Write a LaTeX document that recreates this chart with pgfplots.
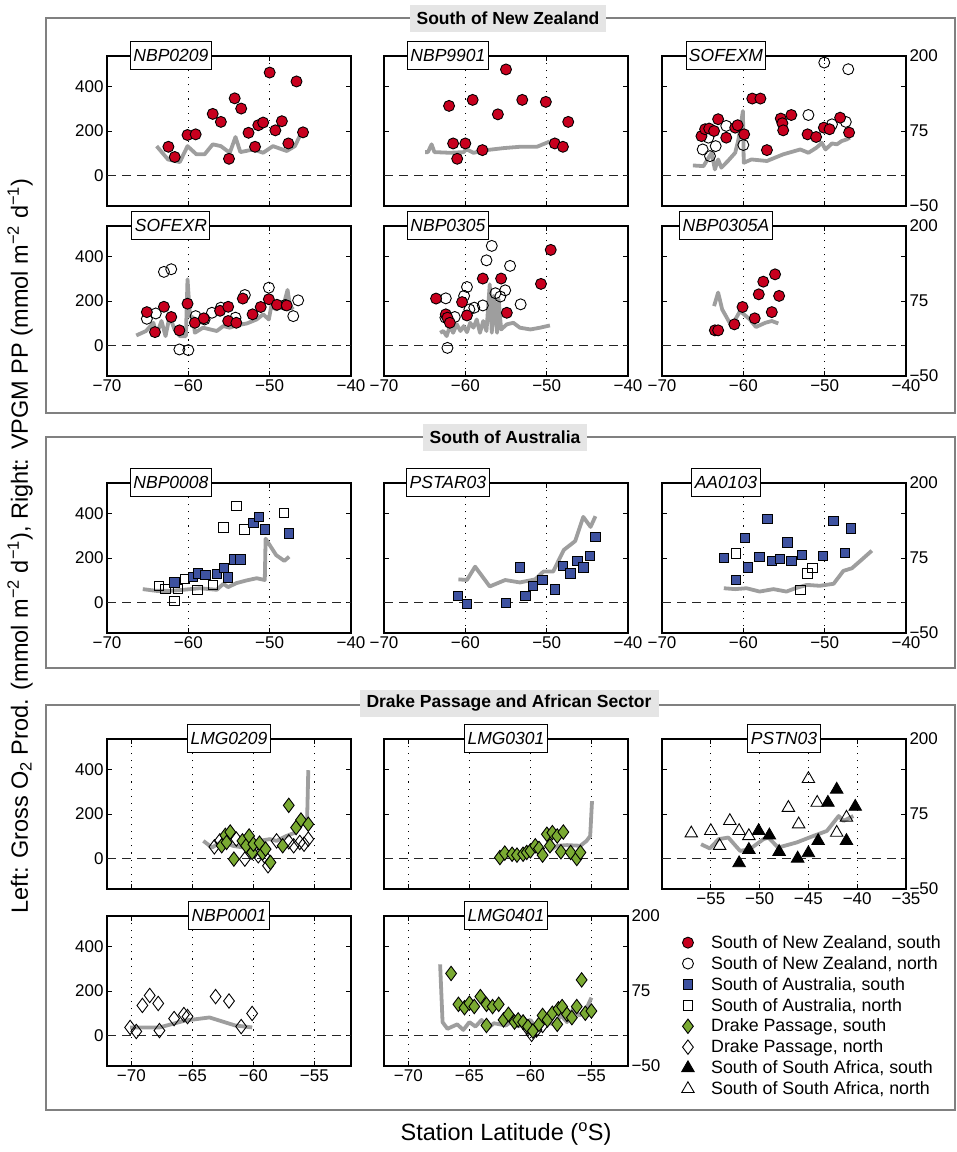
\documentclass[border=0pt]{standalone}
\usepackage{pgfplots}
\pgfplotsset{compat=1.18}
\usepackage{fontspec}
\setmainfont{Liberation Sans}

\definecolor{nzred}{RGB}{200,0,30}
\definecolor{aublue}{RGB}{62,82,160}
\definecolor{dpgreen}{RGB}{122,170,50}
\definecolor{ppgray}{RGB}{158,158,158}
\definecolor{framegray}{RGB}{128,128,128}
\definecolor{titlebg}{RGB}{229,229,229}

\newcommand\tickfont{\fontsize{17}{18}\selectfont}
\newcommand\labfont{\fontsize{17.5}{18}\selectfont\itshape}
\newcommand\titfont{\fontsize{17.5}{18}\selectfont\bfseries}
\newcommand\legfont{\fontsize{17.8}{19}\selectfont}

\pgfplotsset{
  panel/.style={scale only axis, width=244pt, height=150pt, anchor=south west,
    xmin=-70, xmax=-40, ymin=-137.5, ymax=537.5,
    xtick={-70,-60,-50,-40}, xticklabels={},
    ytick={0,200,400}, yticklabels={},
    xmajorgrids, major grid style={black, line width=0.9pt, dash pattern=on 1.1pt off 6pt},
    axis line style={line width=1.3pt}, tick style={black, line width=1pt},
    major tick length=5pt, clip=false,
    tick label style={font=\tickfont}, /pgf/number format/assume math mode=true},
  lefty/.style={yticklabels={0,200,400}},
  botx/.style={xticklabels={−70,−60,−50,−40}},
  gthree/.style={xmin=-72, xmax=-52, xtick={-70,-65,-60,-55}},
  gthreex/.style={xticklabels={−70,−65,−60,−55}},
  rightax/.style={scale only axis, width=244pt, height=150pt, anchor=south west,
    xmin=0, xmax=1, ymin=-50, ymax=200, axis y line*=right, axis x line=none,
    ytick={-50,75,200}, yticklabels={−50,75,200}, ytick style={draw=none},
    y axis line style={line width=1.3pt},
    tick label style={font=\tickfont}},
  nzS/.style={only marks, mark=*, mark size=5.5pt, black, mark options={fill=nzred, line width=0.9pt}},
  nzN/.style={only marks, mark=o, mark size=5.5pt, black, mark options={line width=0.9pt}},
  auS/.style={only marks, mark=square*, mark size=4.7pt, black, mark options={fill=aublue, line width=0.9pt}},
  auN/.style={only marks, mark=square, mark size=4.7pt, black, mark options={line width=0.9pt}},
  dpS/.style={only marks, mark=diamond*, mark size=7.2pt, black, mark options={fill=dpgreen, line width=0.9pt}},
  dpN/.style={only marks, mark=diamond, mark size=7.2pt, black, mark options={line width=0.9pt}},
  saS/.style={only marks, mark=triangle*, mark size=7.2pt, black, mark options={fill=black, line width=0.9pt}},
  saN/.style={only marks, mark=triangle, mark size=7.2pt, black, mark options={line width=0.9pt}},
  pp/.style={no marks, ppgray, line width=3.8pt, line join=round},
}

\newcommand\zeroline{\draw[black!85, line width=1pt, dash pattern=on 9pt off 6pt]
  ({rel axis cs:0,0}|-{axis cs:0,0}) -- ({rel axis cs:1,0}|-{axis cs:0,0});}
\newcommand\plab[2]{\node[draw=black, line width=0.9pt, fill=white, font=\labfont,
  inner xsep=3pt, minimum height=28pt, yshift=1pt] at (rel axis cs:#1,1) {#2};}
\newcommand\rightaxis[1]{\begin{axis}[rightax, at={#1}]
  \addplot[draw=none] coordinates {(0.5,0)};\end{axis}}

\begin{document}
\begin{tikzpicture}
\path[use as bounding box] (0pt,0pt) rectangle (957pt,-1152pt);

% group frames and titles
\draw[framegray, line width=1.5pt] (46pt,-18pt) rectangle (955pt,-413pt);
\draw[framegray, line width=1.5pt] (46pt,-437pt) rectangle (955pt,-668pt);
\draw[framegray, line width=1.5pt] (46pt,-705pt) rectangle (955pt,-1110pt);
\node[fill=titlebg, font=\titfont, minimum height=27pt, inner xsep=7pt] at (508pt,-18pt) {South of New Zealand};
\node[fill=titlebg, font=\titfont, minimum height=27pt, inner xsep=7pt] at (505pt,-437pt) {South of Australia};
\node[fill=titlebg, font=\titfont, minimum height=27pt, inner xsep=7pt] at (509pt,-703pt) {Drake Passage and African Sector};

\node[rotate=90, font=\fontsize{23.5}{25}\selectfont] at (20pt,-546pt)
  {Left: Gross O\textsubscript{2} Prod. (mmol m\textsuperscript{−2} d\textsuperscript{−1}), Right: VPGM PP (mmol m\textsuperscript{−2} d\textsuperscript{−1})};
\node[font=\fontsize{23.5}{25}\selectfont] at (506pt,-1134pt) {Station Latitude (\textsuperscript{o}S)};

%% ---------------- South of New Zealand, row 1
\begin{axis}[panel, lefty, at={(107pt,-206pt)}]
\zeroline
\addplot[pp] coordinates {(-63.9,132) (-62.5,72) (-61.05,60) (-60.1,132) (-59.0,95) (-58.0,95) (-57.0,140) (-56.0,132) (-54.9,102) (-54.2,173) (-53.6,105) (-52.0,117) (-50.8,102) (-49.6,132) (-47.9,110) (-46.9,132) (-46.3,177)};
\addplot[nzS] coordinates {(-62.45,129) (-61.67,83) (-60.1,182) (-59.1,185) (-57.0,277) (-56.0,241) (-55.0,75) (-54.3,347) (-53.5,301) (-52.6,192) (-51.8,129) (-51.4,226) (-50.8,238) (-50.0,463) (-49.3,203) (-48.5,244) (-47.7,144) (-46.7,423) (-45.9,194)};
\plab{0.262}{NBP0209}
\end{axis}

\begin{axis}[panel, at={(384pt,-206pt)}]
\zeroline
\addplot[pp] coordinates {(-64.95,105) (-64.6,105) (-64.15,140) (-63.8,105) (-61.9,102) (-60.2,105) (-59.9,118) (-59.0,102) (-57.4,114) (-55.3,123) (-53.3,129) (-51.2,129) (-49.6,153)};
\addplot[nzS] coordinates {(-62.0,313) (-61.5,144) (-61.0,75) (-60.0,144) (-59.1,340) (-57.9,114) (-56.0,275) (-55.0,477) (-53.0,340) (-50.1,331) (-49.0,144) (-48.0,129) (-47.35,241)};
\plab{0.262}{NBP9901}
\end{axis}

\begin{axis}[panel, at={(662pt,-206pt)}]
\zeroline
\addplot[pp] coordinates {(-66.2,45) (-64.9,42) (-63.9,102) (-63.5,27) (-63.1,72) (-62.7,35) (-61.9,65) (-61.0,102) (-60.6,162) (-60.05,290) (-59.95,57) (-59.0,72) (-57.1,65) (-55.1,95) (-53.0,117) (-52.0,102) (-51.0,125) (-50.35,147) (-49.9,117) (-49.1,144) (-48.5,140) (-47.9,155) (-47.3,162) (-46.9,170)};
\addplot[nzN] coordinates {(-65.0,117) (-64.1,87) (-63.4,132) (-64.3,170) (-62.1,223) (-60.0,137) (-52.0,272) (-50.05,508) (-49.1,230) (-47.4,241) (-47.1,478)};
\addplot[nzS] coordinates {(-65.15,177) (-64.7,208) (-64.2,211) (-63.6,200) (-63.1,253) (-62.1,170) (-61.0,215) (-60.7,226) (-59.9,185) (-58.9,346) (-57.9,346) (-57.1,114) (-55.4,256) (-55.2,235) (-55.1,203) (-54.1,272) (-52.1,185) (-51.05,173) (-50.1,215) (-49.4,208) (-48.1,260) (-47.0,193)};
\plab{0.262}{SOFEXM}
\end{axis}
\rightaxis{(662pt,-206pt)}

%% ---------------- South of New Zealand, row 2
\begin{axis}[panel, lefty, botx, at={(107pt,-376pt)}]
\zeroline
\addplot[pp] coordinates {(-66.4,45) (-65.2,65) (-64.3,102) (-63.9,50) (-63.3,110) (-62.8,42) (-62.3,132) (-61.7,72) (-61.05,42) (-60.3,42) (-60.1,298) (-59.8,132) (-59.4,125) (-59.2,57) (-58.2,80) (-56.5,65) (-55.7,87) (-54.9,80) (-54.1,90) (-52.8,99) (-51.6,117) (-50.8,140) (-50.1,117) (-49.8,177) (-49.2,162) (-48.3,180) (-47.8,250) (-47.5,177) (-47.1,162)};
\addplot[nzN] coordinates {(-65.1,120) (-64.0,144) (-63.0,331) (-62.1,343) (-61.1,-18) (-60.0,-21) (-59.1,132) (-58.0,117) (-57.1,147) (-56.0,170) (-54.2,125) (-53.05,227) (-50.1,260) (-48.1,182) (-47.1,132) (-46.5,203)};
\addplot[nzS] coordinates {(-65.1,150) (-64.1,60) (-63.0,174) (-62.1,128) (-61.1,68) (-60.1,188) (-59.2,102) (-58.1,122) (-56.1,156) (-55.1,174) (-55.1,110) (-54.1,102) (-53.3,211) (-52.1,140) (-51.1,173) (-50.1,208) (-49.1,183) (-47.9,180)};
\plab{0.262}{SOFEXR}
\end{axis}

\begin{axis}[panel, botx, at={(384pt,-376pt)}]
\zeroline
\addplot[pp] coordinates {(-63.1,57) (-62.7,65) (-62.3,42) (-61.9,87) (-61.5,57) (-61.05,95) (-60.6,65) (-60.2,87) (-59.8,60) (-59.4,102) (-59.0,80) (-58.6,117) (-58.2,57) (-57.8,110) (-57.4,65) (-57.0,275) (-56.75,57) (-56.5,223) (-56.1,57) (-55.9,208) (-55.6,72) (-54.9,95) (-54.1,102) (-53.3,80) (-52.0,72) (-50.8,80) (-49.6,90)};
\addplot[nzN] coordinates {(-62.4,212) (-62.45,125) (-61.3,128) (-62.2,-11) (-60.15,223) (-59.8,263) (-59.5,162) (-58.9,170) (-57.85,180) (-57.4,383) (-56.75,448) (-56.3,235) (-55.7,220) (-55.1,248) (-54.5,358) (-53.2,185)};
\addplot[nzS] coordinates {(-63.6,211) (-62.4,140) (-62.2,125) (-61.9,102) (-60.4,195) (-59.8,135) (-57.85,301) (-55.6,301) (-54.9,147) (-50.7,277) (-49.5,430)};
\plab{0.262}{NBP0305}
\end{axis}

\begin{axis}[panel, botx, at={(662pt,-376pt)}]
\zeroline
\addplot[pp] coordinates {(-63.6,177) (-63.1,238) (-62.6,162) (-61.45,87) (-60.4,155) (-59.2,117) (-58.45,83) (-57.3,102) (-56.5,110) (-55.7,99)};
\addplot[nzS] coordinates {(-63.5,68) (-63.1,68) (-61.1,95) (-60.1,173) (-58.6,122) (-58.1,230) (-57.55,287) (-56.5,150) (-56.1,320) (-55.6,223)};
\plab{0.262}{NBP0305A}
\end{axis}
\rightaxis{(662pt,-376pt)}

%% ---------------- South of Australia
\begin{axis}[panel, lefty, botx, at={(107pt,-633pt)}]
\zeroline
\addplot[pp] coordinates {(-65.6,60) (-63.9,52) (-62.3,52) (-60.6,57) (-58.6,64) (-56.5,57) (-55.7,84) (-55.1,69) (-54.1,87) (-52.85,99) (-51.6,109) (-50.6,101) (-50.5,287) (-49.2,213) (-48.2,187) (-47.6,206)};
\addplot[auN] coordinates {(-63.6,75) (-62.8,60) (-61.7,6) (-61.3,60) (-60.4,106) (-58.9,57) (-57.0,79) (-55.7,337) (-54.1,434) (-53.1,328) (-48.25,404)};
\addplot[auS] coordinates {(-61.7,90) (-59.4,116) (-58.8,131) (-57.9,124) (-56.5,127) (-55.6,154) (-55.1,113) (-54.4,194) (-53.6,194) (-52.0,358) (-51.3,385) (-50.6,328) (-47.6,310)};
\plab{0.262}{NBP0008}
\end{axis}

\begin{axis}[panel, botx, at={(384pt,-633pt)}]
\zeroline
\addplot[pp] coordinates {(-60.85,104) (-59.8,101) (-58.8,161) (-57.0,72) (-55.1,101) (-53.3,90) (-51.4,104) (-50.4,139) (-49.2,139) (-47.9,236) (-46.5,276) (-45.5,385) (-44.6,340) (-44.0,388)};
\addplot[auS] coordinates {(-60.9,30) (-59.8,-6) (-55.0,-3) (-53.3,157) (-52.6,30) (-51.7,75) (-50.5,101) (-49.0,58) (-48.0,164) (-47.1,131) (-46.2,188) (-45.5,157) (-44.7,210) (-44.0,294)};
\plab{0.262}{PSTAR03}
\end{axis}

\begin{axis}[panel, botx, at={(662pt,-633pt)}]
\zeroline
\addplot[pp] coordinates {(-62.4,64) (-61.0,60) (-59.6,64) (-58.0,49) (-56.3,60) (-54.7,49) (-53.6,64) (-52.2,79) (-50.6,75) (-48.9,84) (-47.7,142) (-46.65,154) (-45.4,194) (-44.2,233)};
\addplot[auN] coordinates {(-60.9,221) (-53.0,55) (-52.1,131) (-51.5,154)};
\addplot[auS] coordinates {(-62.4,199) (-60.9,101) (-59.8,291) (-59.4,158) (-58.0,206) (-57.05,375) (-56.5,187) (-55.5,196) (-54.6,270) (-54.1,187) (-52.8,213) (-50.2,210) (-48.9,366) (-47.5,224) (-46.8,333)};
\plab{0.262}{AA0103}
\end{axis}
\rightaxis{(662pt,-633pt)}

%% ---------------- Drake Passage and African Sector, row 1
\begin{axis}[panel, lefty, gthree, at={(107pt,-889pt)}]
\zeroline
\addplot[pp] coordinates {(-64.1,79) (-63.4,49) (-62.5,79) (-61.7,57) (-60.8,49) (-60.0,34) (-59.5,79) (-58.65,87) (-58.1,79) (-57.3,101) (-56.6,116) (-55.9,161) (-55.6,169) (-55.5,397)};
\addplot[dpN] coordinates {(-63.2,52) (-62.75,79) (-61.4,87) (-60.7,-3) (-59.9,34) (-59.6,12) (-59.1,12) (-58.8,-33) (-58.1,79) (-57.1,75) (-56.7,57) (-56.2,72) (-55.85,64) (-55.5,87)};
\addplot[dpS] coordinates {(-62.6,57) (-62.3,104) (-61.9,119) (-61.6,-3) (-62.2,72) (-60.9,79) (-60.6,57) (-60.35,101) (-60.1,27) (-60.0,64) (-59.5,69) (-59.25,24) (-59.0,42) (-58.6,-18) (-57.6,57) (-57.1,239) (-56.5,139) (-56.1,173) (-55.5,154)};
\plab{0.5}{LMG0209}
\end{axis}

\begin{axis}[panel, gthree, at={(384pt,-889pt)}]
\zeroline
\addplot[pp] coordinates {(-58.5,34) (-57.8,57) (-57.0,60) (-55.9,57) (-55.4,79) (-55.1,101) (-54.95,258)};
\addplot[dpS] coordinates {(-62.5,4) (-62.1,24) (-61.5,19) (-61.1,15) (-60.6,19) (-60.3,27) (-60.0,34) (-59.6,57) (-59.3,45) (-59.0,15) (-58.65,109) (-58.4,57) (-58.2,116) (-57.8,101) (-57.3,119) (-57.5,30) (-56.7,27) (-56.2,0) (-55.9,27)};
\plab{0.5}{LMG0301}
\end{axis}

\begin{axis}[panel, xmin=-60, xmax=-35, xtick={-55,-50,-45,-40,-35}, xticklabels={−55,−50,−45,−40,−35}, at={(662pt,-889pt)}]
\zeroline
\addplot[pp] coordinates {(-56.0,64) (-55.1,45) (-54.2,87) (-53.2,94) (-52.0,34) (-51.0,42) (-49.6,87) (-49.1,94) (-48.1,49) (-46.2,72) (-44.5,101) (-43.1,124) (-41.9,191) (-41.4,169) (-40.4,191)};
\addplot[saN] coordinates {(-57.0,113) (-55.0,124) (-54.1,57) (-53.05,169) (-52.1,124) (-51.1,101) (-47.05,228) (-46.0,154) (-45.0,358) (-44.1,251) (-42.1,116) (-41.1,184)};
\addplot[saS] coordinates {(-52.1,-21) (-51.1,39) (-50.1,124) (-49.0,104) (-48.0,30) (-46.1,0) (-45.0,24) (-44.0,79) (-43.0,251) (-42.1,310) (-41.1,79) (-40.2,233)};
\plab{0.5}{PSTN03}
\end{axis}
\rightaxis{(662pt,-889pt)}

%% ---------------- Drake Passage and African Sector, row 2
\begin{axis}[panel, lefty, gthree, gthreex, at={(107pt,-1066pt)}]
\zeroline
\addplot[pp] coordinates {(-70.1,36) (-67.7,36) (-65.6,67) (-63.6,81) (-61.5,45) (-60.1,36)};
\addplot[dpN] coordinates {(-70.1,36) (-69.6,18) (-69.1,135) (-68.5,180) (-67.8,144) (-67.7,22) (-66.5,76) (-65.7,94) (-65.4,85) (-63.1,175) (-62.0,155) (-61.0,40) (-60.1,99)};
\plab{0.5}{NBP0001}
\end{axis}

\begin{axis}[panel, gthree, gthreex, at={(384pt,-1066pt)}]
\zeroline
\addplot[pp] coordinates {(-67.4,320) (-67.2,60) (-66.8,30) (-66.0,50) (-65.5,25) (-65.0,60) (-64.5,40) (-64.0,70) (-63.5,30) (-63.0,55) (-62.0,45) (-61.5,65) (-61.0,40) (-60.0,70) (-59.5,30) (-59.0,60) (-58.0,50) (-57.5,90) (-57.0,60) (-56.5,120) (-56.0,90) (-55.5,110) (-55.0,170)};
\addplot[dpN] coordinates {(-60.6,60) (-60.2,30) (-59.9,5) (-59.5,25) (-59.0,45)};
\addplot[dpS] coordinates {(-66.5,279) (-65.9,140) (-65.4,125) (-65.0,145) (-64.6,130) (-64.1,175) (-63.6,140) (-63.6,45) (-63.1,130) (-62.6,140) (-62.2,70) (-61.8,95) (-61.3,60) (-61.0,70) (-60.6,60) (-60.2,40) (-59.8,20) (-59.3,50) (-59.0,90) (-58.6,70) (-58.2,100) (-57.8,50) (-57.7,120) (-57.4,130) (-57.0,95) (-56.6,80) (-56.2,130) (-55.8,250) (-55.5,100) (-55.0,110)};
\plab{0.5}{LMG0401}
\end{axis}
\rightaxis{(384pt,-1066pt)}

%% ---------------- legend
\begin{axis}[scale only axis, width=244pt, height=150pt, anchor=south west, at={(662pt,-1066pt)},
  hide axis, xmin=0, xmax=1, ymin=0, ymax=1,
  legend style={at={(0.08,0.885)}, anchor=north west, draw=none, fill=none, font=\legfont,
    row sep=2.5pt, inner sep=0pt, cells={anchor=west},
    /tikz/every odd column/.append style={column sep=15pt}}]
\addlegendimage{nzS}\addlegendentry{South of New Zealand, south}
\addlegendimage{nzN}\addlegendentry{South of New Zealand, north}
\addlegendimage{auS}\addlegendentry{South of Australia, south}
\addlegendimage{auN}\addlegendentry{South of Australia, north}
\addlegendimage{dpS}\addlegendentry{Drake Passage, south}
\addlegendimage{dpN}\addlegendentry{Drake Passage, north}
\addlegendimage{saS}\addlegendentry{South of South Africa, south}
\addlegendimage{saN}\addlegendentry{South of South Africa, north}
\end{axis}
\end{tikzpicture}
\end{document}
